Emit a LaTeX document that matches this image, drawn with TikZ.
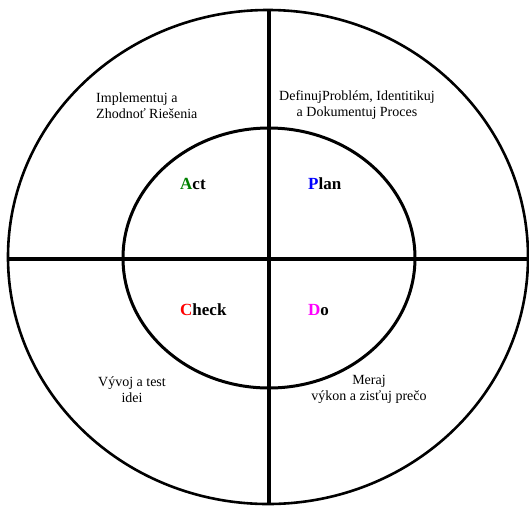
\documentclass[tikz,border=0pt]{standalone}
\usepackage{fontspec}
\setmainfont{Liberation Serif}
\definecolor{actgreen}{RGB}{0,128,0}
\definecolor{planblue}{RGB}{0,0,255}
\definecolor{checkred}{RGB}{255,0,0}
\definecolor{domagenta}{RGB}{255,0,255}
\begin{document}
\begin{tikzpicture}[x=1pt,y=-1pt,
  lbl/.style={font=\fontsize{14}{16}\selectfont, inner sep=0pt, align=center},
  key/.style={font=\fontsize{17}{19}\selectfont\bfseries, inner sep=0pt},
  ring/.style={draw=black, line width=2.6pt},
  cross/.style={draw=black, line width=4pt}]
\useasboundingbox (0,0) rectangle (529,507);
% outer ellipse
\draw[ring] (268,257) ellipse [x radius=260, y radius=247];
% inner ellipse
\draw[ring, line width=3pt] (269,258) ellipse [x radius=146, y radius=130];
% cross
\coordinate (top) at (269,10);
\coordinate (bot) at (269,504);
\coordinate (lft) at (8,259);
\coordinate (rgt) at (528,259);
\draw[cross] (top) -- (bot);
\draw[cross] (lft) -- (rgt);
% outer labels
\node[lbl, align=left, anchor=west] (impl) at (96,106) {Implementuj a\\Zhodnoť Riešenia};
\node[lbl] (def) at (357,105) {DefinujProblém, Identitikuj\\a Dokumentuj Proces};
\node[lbl] (vyv) at (132,390) {Vývoj a test\\idei};
\node[lbl] (mer) at (369,389) {Meraj\\výkon a zisťuj prečo};
% inner labels
\node[key, anchor=west] (act) at (180,184) {\textcolor{actgreen}{A}ct};
\node[key, anchor=west] (plan) at (308,184) {\textcolor{planblue}{P}lan};
\node[key, anchor=west] (check) at (180,310) {\textcolor{checkred}{C}heck};
\node[key, anchor=west] (do) at (308,310) {\textcolor{domagenta}{D}o};
\end{tikzpicture}
\end{document}
